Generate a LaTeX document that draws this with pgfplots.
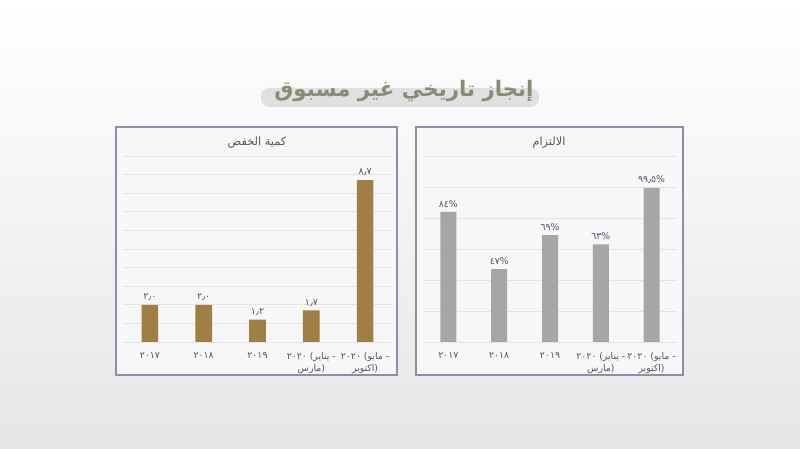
\documentclass[border=0pt]{standalone}
\usepackage{pgfplots}
\pgfplotsset{compat=1.18}
\usepackage{fontspec}
\TeXXeTstate=1
\newfontfamily\arabicfont[Script=Arabic]{DejaVu Sans}
\newfontfamily\latfont{DejaVu Sans}
\definecolor{bgbot}{RGB}{230,230,230}
\definecolor{panelfill}{RGB}{247,247,247}
\definecolor{panelborder}{RGB}{140,144,166}
\definecolor{gridc}{RGB}{228,228,228}
\definecolor{barbrown}{RGB}{160,126,68}
\definecolor{bargray}{RGB}{166,166,166}
\definecolor{labc}{RGB}{80,84,108}
\definecolor{titlec}{RGB}{140,138,115}
\definecolor{hilite}{RGB}{224,224,224}
\newcommand{\pct}{{\latfont\%}}
\newcommand{\labA}{٢٠٢٠{\latfont\ (}\beginR يناير\endR{\latfont\ -}\\\beginR مارس\endR{\latfont )}}
\newcommand{\labB}{٢٠٢٠{\latfont\ (}\beginR مايو\endR{\latfont\ -}\\\beginR اكتوبر\endR{\latfont )}}
\begin{document}
\begin{tikzpicture}[x=0.75pt,y=0.75pt]
\shade[top color=white, bottom color=bgbot] (0,0) rectangle (800,449);
% title highlight
\fill[hilite, rounded corners=6pt] (261,342) rectangle (539,361);
\node[text=titlec, inner sep=0pt] at (404,358) {\arabicfont\bfseries\fontsize{16}{19}\selectfont\beginR إنجاز تاريخي غير مسبوق\endR};
% panels
\filldraw[fill=panelfill, draw=panelborder, line width=0.9pt] (116,322) rectangle (397,74);
\filldraw[fill=panelfill, draw=panelborder, line width=0.9pt] (416,322) rectangle (683,74);
\node[text=labc] at (257,306) {\arabicfont\fontsize{8.5}{10}\selectfont\beginR كمية الخفض\endR};
\node[text=labc] at (549,306) {\arabicfont\fontsize{8.5}{10}\selectfont\beginR الالتزام\endR};
% left axis
\begin{axis}[
  at={(92.25pt,80.25pt)}, anchor=south west, scale only axis,
  width=201.75pt, height=139.5pt,
  xmin=-0.5, xmax=4.5, ymin=0, ymax=10,
  ytick={0,1,...,10}, yticklabels={},
  ymajorgrids, grid style={gridc, line width=0.6pt},
  axis line style={draw=none}, major tick length=0pt,
  xtick={0,1,2,3,4},
  xticklabels={{٢٠١٧},{٢٠١٨},{٢٠١٩},{\labA},{\labB}},
  xticklabel style={font=\arabicfont\fontsize{7}{9}\selectfont, text=labc, align=center, yshift=-4.5pt},
  ybar, bar width=12.5pt, bar shift=0pt,
  clip=false,
  nodes near coords, point meta=explicit symbolic,
  nodes near coords style={font=\arabicfont\fontsize{7}{8}\selectfont, text=labc, inner sep=3pt},
]
\addplot[fill=barbrown, draw=none] coordinates {(0,2.0) [٢٫٠] (1,2.0) [٢٫٠] (2,1.2) [١٫٢] (3,1.7) [١٫٧] (4,8.7) [٨٫٧]};
\end{axis}
% right axis
\begin{axis}[
  at={(317.25pt,80.25pt)}, anchor=south west, scale only axis,
  width=190.5pt, height=139.5pt,
  xmin=-0.5, xmax=4.5, ymin=0, ymax=120,
  ytick={0,20,...,120}, yticklabels={},
  ymajorgrids, grid style={gridc, line width=0.6pt},
  axis line style={draw=none}, major tick length=0pt,
  xtick={0,1,2,3,4},
  xticklabels={{٢٠١٧},{٢٠١٨},{٢٠١٩},{\labA},{\labB}},
  xticklabel style={font=\arabicfont\fontsize{7}{9}\selectfont, text=labc, align=center, yshift=-4.5pt},
  ybar, bar width=12pt, bar shift=0pt,
  clip=false,
  nodes near coords, point meta=explicit symbolic,
  nodes near coords style={font=\arabicfont\fontsize{7}{8}\selectfont, text=labc, inner sep=3pt},
]
\addplot[fill=bargray, draw=none] coordinates {(0,84) [٨٤\pct] (1,47) [٤٧\pct] (2,69) [٦٩\pct] (3,63) [٦٣\pct] (4,99.5) [٩٩٫٥\pct]};
\end{axis}
\end{tikzpicture}
\end{document}
